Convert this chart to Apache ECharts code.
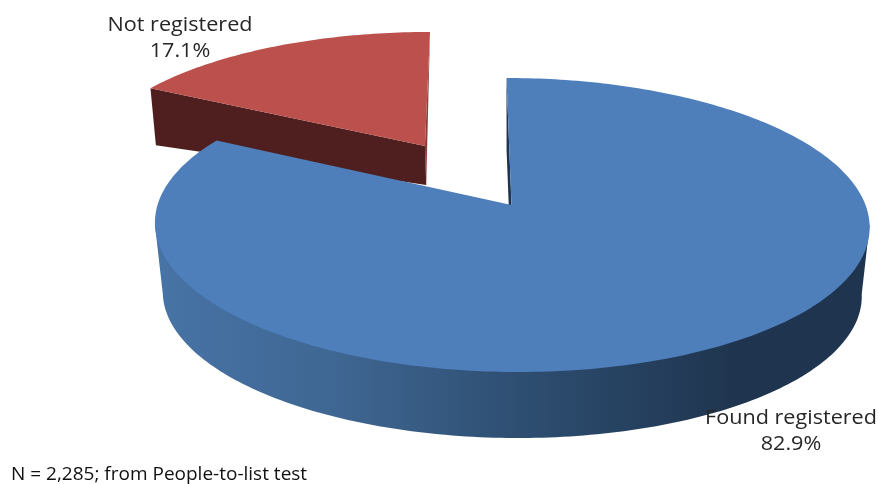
<!DOCTYPE html>
<html>
<head>
<meta charset="utf-8">
<style>html,body{margin:0;padding:0;background:#fff}#c{width:878px;height:484px}</style>
<script src="https://cdn.jsdelivr.net/npm/echarts@6/dist/echarts.min.js"></script>
</head>
<body>
<div id="c"></div>
<script>
// ---- data ----
const categories = ['Not registered', 'Found registered'];
const percentages = [17.1, 82.9];
const percentLabels = ['17.1%', '82.9%'];
const note = 'N = 2,285; from People-to-list test';

// ---- perspective pie layout ----
const firstSliceAngle = -percentages[0] * 3.6;
const view = {cx: 511.5, cy: 205, rx: 354, ry: 144.3, persp: 0.136, skew: 5.7};
const sliceStyles = [
  {top: '#bc504d', side: '#4e1f1e', inner: '#8c3d3a', offU: -0.252, offV: -0.433, depth0: 22.7, depth1: -37.8,
   baseScale: 0.985, label: {x: 180, y: 38}},
  {top: '#4e7fbb', side: null, inner: '#1f344e', offU: 0, offV: 0, depth0: 69.5, depth1: -3.5,
   baseScale: 0.978, label: {x: 791, y: 431}}
];
const blueSide = new echarts.graphic.LinearGradient(0, 0, 1, 0, [
  {offset: 0, color: '#4773a6'}, {offset: 0.25, color: '#3f6793'}, {offset: 0.48, color: '#305175'},
  {offset: 0.68, color: '#25405e'}, {offset: 0.82, color: '#1f344e'}, {offset: 1, color: '#1f344e'}
]);

function project(u, v) {
  const d = 1 - view.persp * v;
  return [view.cx + (view.rx * u + view.skew * v) / d, view.cy + view.ry * v / d];
}
function topPt(st, deg) {
  const t = deg * Math.PI / 180;
  return project(st.offU + Math.sin(t), st.offV - Math.cos(t));
}
function apex(st) { return project(st.offU, st.offV); }
function lower(st, p, v) {
  return [view.cx + (p[0] - view.cx) * st.baseScale, p[1] + st.depth0 + st.depth1 * v];
}
function basePt(st, deg) {
  const t = deg * Math.PI / 180;
  return lower(st, topPt(st, deg), st.offV - Math.cos(t));
}
function baseApex(st) { return lower(st, apex(st), st.offV); }
function arc(fn, st, a, b) {
  const n = Math.max(8, Math.ceil(Math.abs(b - a)));
  const out = [];
  for (let i = 0; i <= n; i++) out.push(fn(st, a + (b - a) * i / n));
  return out;
}
const poly = (points, fill) => ({type: 'polygon', shape: {points}, style: {fill}, silent: true});

function renderSlice(params, api) {
  const i = params.dataIndex;
  const st = sliceStyles[i];
  let a0 = firstSliceAngle;
  for (let k = 0; k < i; k++) a0 += percentages[k] * 3.6;
  const a1 = a0 + api.value(0) * 3.6;
  const kids = [];
  if (i === 0) {
    kids.push(poly([topPt(st, a1), apex(st), baseApex(st)], st.inner));
    kids.push(poly([topPt(st, a0), apex(st), baseApex(st), basePt(st, a0)], st.side));
  } else {
    kids.push(poly([topPt(st, a0), apex(st), baseApex(st), basePt(st, a0)], st.inner));
    const ext = Math.acos(-view.persp) * 180 / Math.PI;
    const baseArc = arc(basePt, st, 360 - ext, ext);
    kids.push(poly([topPt(st, 360 - ext)].concat(baseArc, [topPt(st, ext)]), blueSide));
  }
  kids.push(poly([apex(st)].concat(arc(topPt, st, a0, a1)), st.top));
  kids.push({
    type: 'text', silent: true,
    x: st.label.x, y: st.label.y, scaleX: 1.08, scaleY: 1,
    style: {
      x: 0, y: 0, text: categories[i] + '\n' + percentLabels[i],
      align: 'center', verticalAlign: 'middle', fill: '#262626',
      font: '20px "Open Sans"', lineHeight: 26
    }
  });
  return {type: 'group', children: kids};
}

const chart = echarts.init(document.getElementById('c'), null, {renderer: 'canvas'});
chart.setOption({
  animation: false,
  backgroundColor: '#fff',
  graphic: [{
    type: 'text', x: 11, y: 465, silent: true,
    style: {x: 0, y: 0, text: note, fill: '#111', font: '19px "Open Sans"'}
  }],
  series: [{
    type: 'custom', coordinateSystem: 'none', clip: false,
    data: percentages.map(v => [v]),
    renderItem: renderSlice
  }]
});
</script>
</body>
</html>
